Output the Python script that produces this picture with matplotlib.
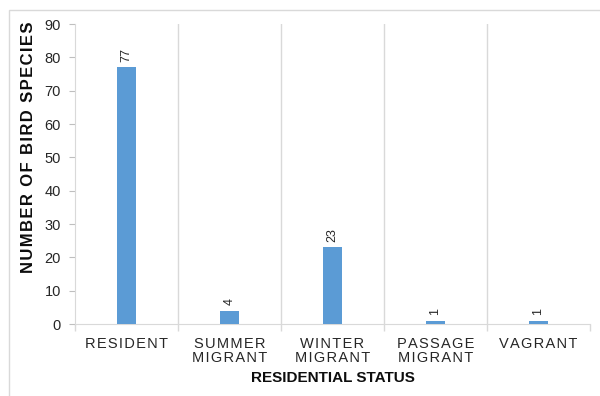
import matplotlib
matplotlib.use("Agg")
import matplotlib.pyplot as plt
from matplotlib.patches import Rectangle

categories = ["RESIDENT", "SUMMER\nMIGRANT", "WINTER\nMIGRANT", "PASSAGE\nMIGRANT", "VAGRANT"]
values = [77, 4, 23, 1, 1]
yticks = [0, 10, 20, 30, 40, 50, 60, 70, 80, 90]

plt.rcParams['font.family'] = ['Liberation Sans', 'DejaVu Sans']

W, H = 600, 396
fig = plt.figure(figsize=(6, 3.96), dpi=100)
fig.patches.append(Rectangle((9 / W, -0.01), 1.02, 1 - 10 / H + 0.01, transform=fig.transFigure,
                             fill=False, edgecolor='#d9d9d9', linewidth=1.0))

ax = fig.add_axes([75 / W, 1 - 324 / H, (590 - 75) / W, (324 - 24) / H])
x = list(range(len(categories)))
bars = ax.bar(x, values, width=0.18, color='#5b9bd5', zorder=3)

for xi, v in zip(x, values):
    ax.text(xi, v + 1.6, str(v), rotation=90, ha='center', va='bottom', fontsize=9, color='#262626')

ax.set_xlim(-0.5, len(categories) - 0.5)
ax.set_ylim(0, 90)
ax.set_yticks(yticks)
ax.tick_params(axis='y', labelsize=10.5, colors='#bfbfbf', labelcolor='#262626', length=4, width=0.8, pad=6)

boundaries = [i + 0.5 for i in range(len(categories) - 1)]
for b in boundaries:
    ax.axvline(b, color='#d9d9d9', linewidth=1.0, zorder=1)
ax.set_xticks([i - 0.5 for i in range(len(categories) + 1)], minor=False)
ax.set_xticklabels([])
ax.tick_params(axis='x', which='major', colors='#d9d9d9', length=5, width=1.0)
ax.set_xticks(x, minor=True)
spaced = ["\n".join("\u200a".join(line) for line in c.split("\n")) for c in categories]
ax.set_xticklabels(spaced, minor=True)
ax.tick_params(axis='x', which='minor', length=0, labelsize=10.5, labelcolor='#262626', pad=9)
for lbl in ax.get_xticklabels(minor=True):
    lbl.set_linespacing(1.0)

for s in ['top', 'right']:
    ax.spines[s].set_visible(False)
ax.spines['left'].set_color('#d9d9d9')
ax.spines['bottom'].set_color('#d9d9d9')

fig.text(333 / W, 1 - 378 / H, "RESIDENTIAL STATUS", ha='center', va='center', fontsize=11,
         fontweight='bold', color='#0d0d0d')
ylab = "\u200a".join("NUMBER OF BIRD SPECIES")
fig.text(29 / W, 1 - 147 / H, ylab, ha='center', va='center', rotation=90,
         fontsize=12, fontweight='bold', color='#0d0d0d')

fig.savefig("out.png", dpi=100)
